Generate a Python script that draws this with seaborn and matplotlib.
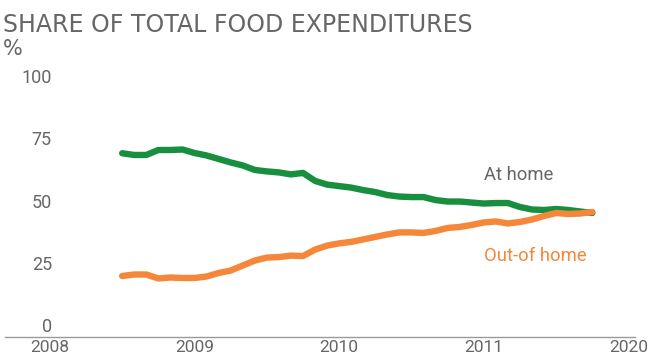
import numpy as np
import pandas as pd
import matplotlib
matplotlib.use("Agg")
import matplotlib.pyplot as plt
import matplotlib.transforms as mtransforms
import seaborn as sns

# Monthly share of total food expenditures, Jul 2008 - Oct 2011 (%)
months = pd.date_range("2008-07-01", "2011-10-01", freq="MS")
at_home = [73.8, 73.1, 73.1, 75.1, 75.1, 75.3, 73.9, 72.9, 71.5, 70.1,
           68.9, 67.1, 66.5, 66.1, 65.3, 65.9, 62.7, 61.2, 60.6, 60.0,
           59.0, 58.2, 57.0, 56.4, 56.2, 56.2, 55.0, 54.4, 54.4, 54.0,
           53.6, 53.8, 53.8, 52.2, 51.2, 51.0, 51.4, 51.0, 50.4, 49.8]
out_of_home = [24.5, 25.1, 25.1, 23.5, 23.9, 23.7, 23.7, 24.3, 25.7, 26.7,
               28.7, 30.7, 31.9, 32.1, 32.7, 32.5, 35.1, 36.7, 37.6, 38.2,
               39.2, 40.2, 41.2, 42.0, 42.0, 41.8, 42.6, 43.8, 44.2, 45.0,
               46.0, 46.4, 45.6, 46.2, 47.2, 48.6, 49.8, 49.4, 49.6, 50.2]

series_names = ["At home", "Out-of home"]
series_colors = ["#178f3e", "#f5873a"]
x_ticks = [2008, 2009, 2010, 2011, 2012]
x_tick_labels = ["2008", "2009", "2010", "2011", "2020"]
y_ticks = [0, 25, 50, 75, 100]

year_frac = months.year + (months.month - 1) / 12.0
df = pd.DataFrame({
    "year": np.concatenate([year_frac, year_frac]),
    "share": at_home + out_of_home,
    "where": [series_names[0]] * len(months) + [series_names[1]] * len(months),
})

sns.set_theme(style="white")
plt.rcParams["font.family"] = ["Roboto", "DejaVu Sans"]

text_grey = "#666666"

fig = plt.figure(figsize=(6.57, 3.58), dpi=100)
ax = fig.add_axes([5 / 657, 21 / 358, 630 / 657, 249 / 358])

sns.lineplot(data=df, x="year", y="share", hue="where",
             palette=dict(zip(series_names, series_colors)),
             linewidth=4.6, legend=False, ax=ax, sort=False)
for ln in ax.get_lines():
    ln.set_solid_capstyle("round")
    ln.set_solid_joinstyle("round")

ax.set_xlim(2007.69, 2012.045)
ax.set_ylim(0, 100)
ax.set_xlabel("")
ax.set_ylabel("")

for side in ["top", "right", "left"]:
    ax.spines[side].set_visible(False)
ax.spines["bottom"].set_color("#9a9a9a")
ax.spines["bottom"].set_linewidth(1.0)

ax.set_xticks(x_ticks)
ax.set_xticklabels(x_tick_labels, fontsize=12.5, color=text_grey)
ax.tick_params(axis="x", length=0, pad=2)
ax.set_yticks([])

# y labels sit just above their value, inside the plot area
ylab_tr = mtransforms.blended_transform_factory(ax.transAxes, ax.transData) + \
    mtransforms.ScaledTranslation(0, 5 / 100, fig.dpi_scale_trans)
for v in y_ticks:
    ax.text(47 / 630, v, str(v), transform=ylab_tr, ha="right", va="baseline",
            fontsize=13, color=text_grey)

# direct series labels
ax.text(2011.0, 65, series_names[0], fontsize=13.3, color=text_grey, va="center")
ax.text(2011.0, 32.5, series_names[1], fontsize=13.3, color=series_colors[1], va="center")

fig.text(3 / 657, 1 - 32.3 / 358, "SHARE OF TOTAL FOOD EXPENDITURES",
         fontsize=17, color=text_grey, va="baseline", family=["DejaVu Sans"])
fig.text(3 / 657, 1 - 55 / 358, "%", fontsize=15, color=text_grey,
         va="baseline", family=["DejaVu Sans"])

fig.savefig("out.png", dpi=100)
